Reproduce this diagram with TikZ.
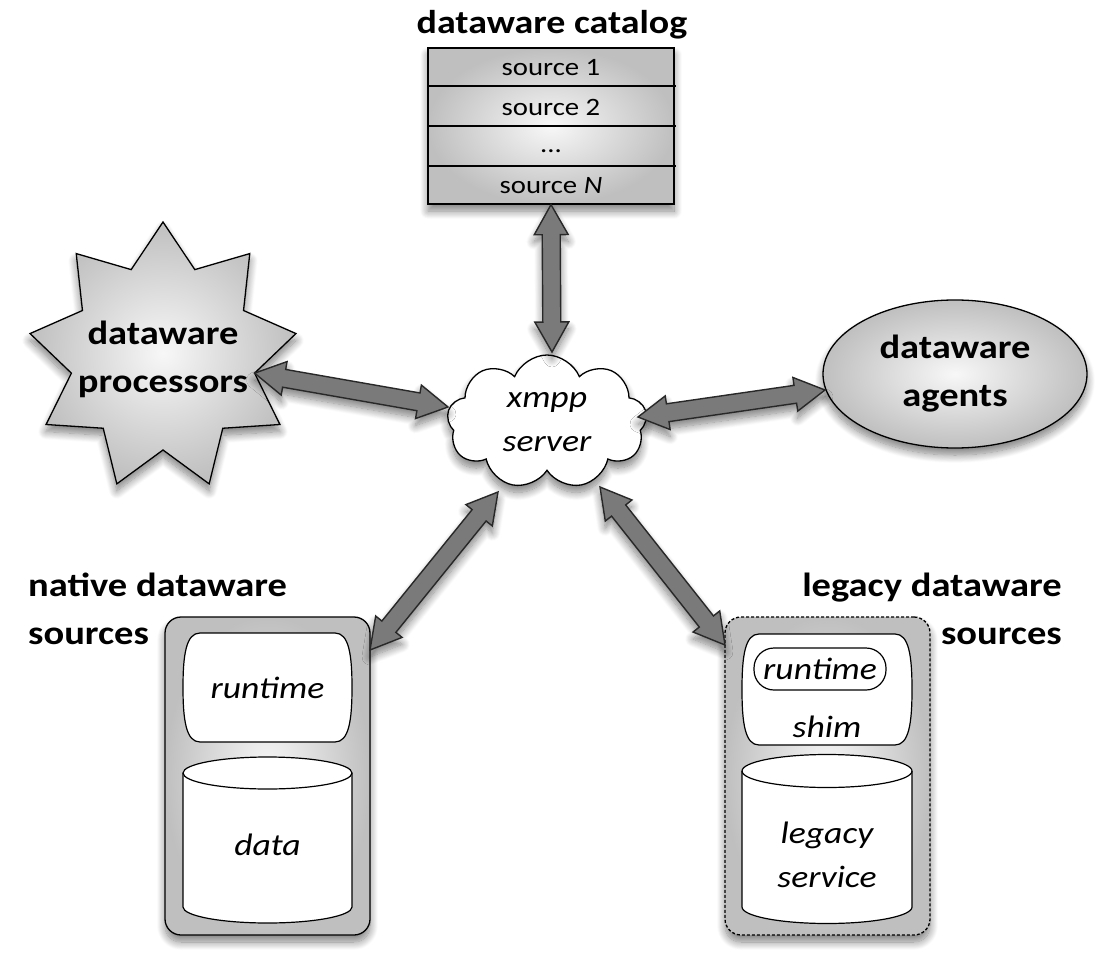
\documentclass[tikz,border=0pt]{standalone}
\usepackage{fontspec}
\setmainfont{Carlito}[FakeStretch=1.15]
\usetikzlibrary{shapes.symbols,shapes.geometric,calc,shadows.blur}
\definecolor{arrgray}{RGB}{122,122,122}
\definecolor{arrline}{RGB}{40,40,40}
\newcommand{\fatarr}[2]{%
  \path[fatarrow] (#1)
    -- ($(#1)!30pt!(#2)!17pt!90:(#2)$)
    -- ($(#1)!30pt!(#2)!9pt!90:(#2)$)
    -- ($(#2)!30pt!(#1)!9pt!-90:(#1)$)
    -- ($(#2)!30pt!(#1)!17pt!-90:(#1)$)
    -- (#2)
    -- ($(#2)!30pt!(#1)!17pt!90:(#1)$)
    -- ($(#2)!30pt!(#1)!9pt!90:(#1)$)
    -- ($(#1)!30pt!(#2)!9pt!-90:(#2)$)
    -- ($(#1)!30pt!(#2)!17pt!-90:(#2)$)
    -- cycle;}
\begin{document}
\begin{tikzpicture}[x=1pt,y=1pt,
  shad/.style={blur shadow={shadow xshift=0pt, shadow yshift=-7pt, shadow blur radius=8pt, shadow blur steps=12, shadow opacity=50}},
  boldlbl/.style={font=\fontsize{33.5}{48}\selectfont\bfseries, align=center, inner sep=0pt},
  itlbl/.style={font=\fontsize{31}{44}\selectfont\itshape, align=center, inner sep=0pt},
  rowtxt/.style={font=\fontsize{25}{28}\selectfont, inner sep=0pt},
  fatarrow/.style={fill=arrgray, draw=arrline, line width=1.4pt, line join=miter, shad},
  graybox/.style={draw=black, line width=1.3pt, shading=radial, inner color=gray!6, outer color=gray!50},
  whitepart/.style={draw=black, line width=1.2pt, fill=white},
]
\useasboundingbox (0,0) rectangle (1109,-966);

% ---------- catalog ----------
\node[font=\fontsize{33}{38}\selectfont\bfseries, inner sep=0pt] (cattitle) at (552,-25) {dataware catalog};
\node[rectangle, graybox, shad, minimum width=246pt, minimum height=156pt, inner sep=0pt] (catalog) at (551,-126) {};
\draw[line width=1.2pt] (catalog.west |- 0,-86) -- (676,-86);
\draw[line width=1.2pt] (catalog.west |- 0,-126) -- (676,-126);
\draw[line width=1.2pt] (catalog.west |- 0,-166) -- (676,-166);
\node[rowtxt] (s1) at (551,-68) {source 1};
\node[rowtxt] (s2) at (551,-107) {source 2};
\node[rowtxt] (s3) at (551,-151) {...};
\node[rowtxt] (sN) at (551,-186) {source \textit{N}};

% ---------- processors (9-point star) ----------
\path[graybox, shad] plot[samples at={0,...,17}]
  ({163+ifthenelse(mod(\x,2)==0,135,93)*cos(90+20*\x)},
   {-357+ifthenelse(mod(\x,2)==0,135,93)*sin(90+20*\x)}) -- cycle;
\node[boldlbl] (proc) at (163,-359) {dataware\\processors};
\coordinate (procE) at ({163+93*cos(-10)},{-357+93*sin(-10)});

% ---------- xmpp server (cloud) ----------
\node[cloud, cloud puffs=9, cloud puff arc=135, cloud ignores aspect, draw, line width=1.3pt, fill=white, shad,
      minimum width=200pt, minimum height=134pt, itlbl] (server) at (547,-422) {xmpp\\server};

% ---------- agents ----------
\node[ellipse, graybox, shad, minimum width=264pt, minimum height=148pt, boldlbl] (agents) at (955,-374) {dataware\\agents};

% ---------- native dataware sources ----------
\node[boldlbl, align=left, anchor=west] (natlbl) at (28,-609) {native dataware\\sources};
\node[rectangle, rounded corners=16pt, graybox, shad, minimum width=205pt, minimum height=318pt] (native) at (267.5,-776) {};
\path[whitepart] (200,-633) -- (335,-633)
  .. controls (349,-633) and (352,-655) .. (352,-687.5)
  .. controls (352,-720) and (349,-742) .. (335,-742)
  -- (200,-742)
  .. controls (186,-742) and (183,-720) .. (183,-687.5)
  .. controls (183,-655) and (186,-633) .. (200,-633) -- cycle;
\node[itlbl] (rt1) at (267.5,-688) {runtime};
\path[whitepart] (183,-773) -- (183,-907)
  arc[start angle=180, end angle=360, x radius=84.5, y radius=16]
  -- (352,-773)
  arc[start angle=0, end angle=180, x radius=84.5, y radius=16] -- cycle;
\draw[line width=1.2pt] (183,-773) arc[start angle=180, end angle=360, x radius=84.5, y radius=16];
\node[itlbl] (data) at (267.5,-845) {data};

% ---------- legacy dataware sources ----------
\node[boldlbl, align=right, anchor=east] (leglbl) at (1062,-609) {legacy dataware\\sources};
\node[rectangle, rounded corners=16pt, graybox, dash pattern=on 3pt off 2pt, shad, minimum width=205pt, minimum height=318pt] (legacy) at (827.5,-776) {};
\path[whitepart] (759,-634) -- (895,-634)
  .. controls (909,-634) and (912,-656) .. (912,-689.5)
  .. controls (912,-723) and (909,-745) .. (895,-745)
  -- (759,-745)
  .. controls (745,-745) and (742,-723) .. (742,-689.5)
  .. controls (742,-656) and (745,-634) .. (759,-634) -- cycle;
\node[draw, fill=white, line width=1.2pt, rounded corners=20pt, minimum width=132pt, minimum height=42pt, itlbl] (rt2) at (820,-669) {runtime};
\node[itlbl] (shim) at (827,-727) {shim};
\path[whitepart] (742,-771) -- (742,-907)
  arc[start angle=180, end angle=360, x radius=85, y radius=16.5]
  -- (912,-771)
  arc[start angle=0, end angle=180, x radius=85, y radius=16.5] -- cycle;
\draw[line width=1.2pt] (742,-771) arc[start angle=180, end angle=360, x radius=85, y radius=16.5];
\node[itlbl] (legsvc) at (827,-855) {legacy\\service};

% ---------- connectors ----------
\coordinate (srvN) at (552,-352);
\coordinate (srvW) at (448,-407);
\coordinate (srvE) at (638,-417);
\coordinate (agW) at (825,-390);
\coordinate (srvSW) at (498,-492);
\coordinate (natNE) at (370,-650);
\coordinate (srvSE) at (600,-487);
\coordinate (legNW) at (725,-645);
\fatarr{catalog.south}{srvN}
\fatarr{procE}{srvW}
\fatarr{srvE}{agW}
\fatarr{srvSW}{natNE}
\fatarr{srvSE}{legNW}
\end{tikzpicture}
\end{document}
